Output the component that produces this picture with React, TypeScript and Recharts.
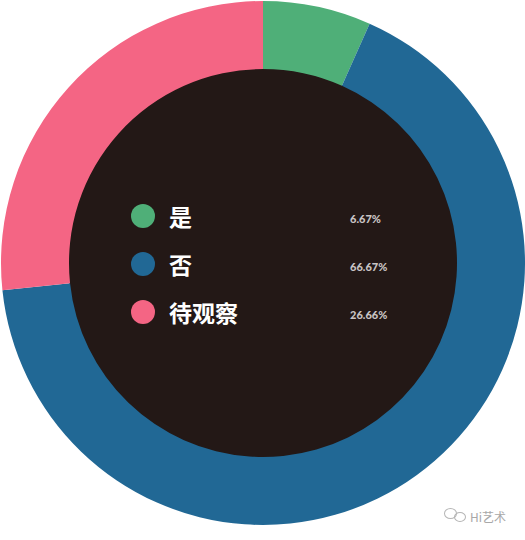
import { Legend, Pie, PieChart } from "recharts";

const categories = ["是", "否", "待观察"];
const shares = [6.67, 66.67, 26.66];
const shareLabels = ["6.67%", "66.67%", "26.66%"];
const colors = ["#4faf78", "#216895", "#f46584"];

const data = categories.map((name, i) => ({
  name,
  value: shares[i],
  label: shareLabels[i],
  fill: colors[i],
}));

const hole = [{ name: "hole", value: 1, fill: "#231816" }];

function LegendBox() {
  return (
    <div style={{ position: "relative", width: 270 }}>
      {data.map((d) => (
        <div
          key={d.name}
          style={{ display: "flex", alignItems: "center", height: 48 }}
        >
          <span
            style={{
              width: 24,
              height: 24,
              borderRadius: 12,
              background: d.fill,
              marginRight: 14,
            }}
          />
          <span
            style={{
              fontFamily: "'Noto Sans CJK SC', sans-serif",
              fontWeight: 700,
              fontSize: 23,
              color: "#ffffff",
              width: 181,
            }}
          >
            {d.name}
          </span>
          <span
            style={{
              fontFamily: "Lato, sans-serif",
              fontWeight: 900,
              fontSize: 11,
              color: "#c9c4c4",
              paddingTop: 4,
            }}
          >
            {d.label}
          </span>
        </div>
      ))}
    </div>
  );
}

export default function App() {
  return (
    <div
      style={{
        position: "absolute",
        left: 0,
        top: 0,
        width: 525,
        height: 540,
        background: "#ffffff",
      }}
    >
      <PieChart
        width={525}
        height={540}
        margin={{ top: 0, right: 0, bottom: 0, left: 0 }}
      >
        <Pie
          data={hole}
          dataKey="value"
          cx={263}
          cy={263}
          outerRadius={195}
          innerRadius={0}
          stroke="none"
          isAnimationActive={false}
        />
        <Pie
          data={data}
          dataKey="value"
          nameKey="name"
          cx={263}
          cy={263}
          innerRadius={194}
          outerRadius={262}
          startAngle={90}
          endAngle={-270}
          stroke="none"
          isAnimationActive={false}
        />
        <Legend
          content={() => <LegendBox />}
          wrapperStyle={{ position: "absolute", left: 131, top: 192, width: 270 }}
        />
      </PieChart>
      <div
        style={{
          position: "absolute",
          left: 444,
          top: 508,
          display: "flex",
          alignItems: "center",
          color: "#a8a8a8",
          fontFamily: "'Noto Sans CJK SC', sans-serif",
          fontSize: 12,
        }}
      >
        <span
          style={{
            width: 11,
            height: 9,
            border: "1px solid #b5b5b5",
            borderRadius: "50%",
            marginRight: -3,
            marginTop: -6,
          }}
        />
        <span
          style={{
            width: 10,
            height: 8,
            border: "1px solid #b5b5b5",
            borderRadius: "50%",
            marginRight: 4,
          }}
        />
        Hi艺术
      </div>
    </div>
  );
}
